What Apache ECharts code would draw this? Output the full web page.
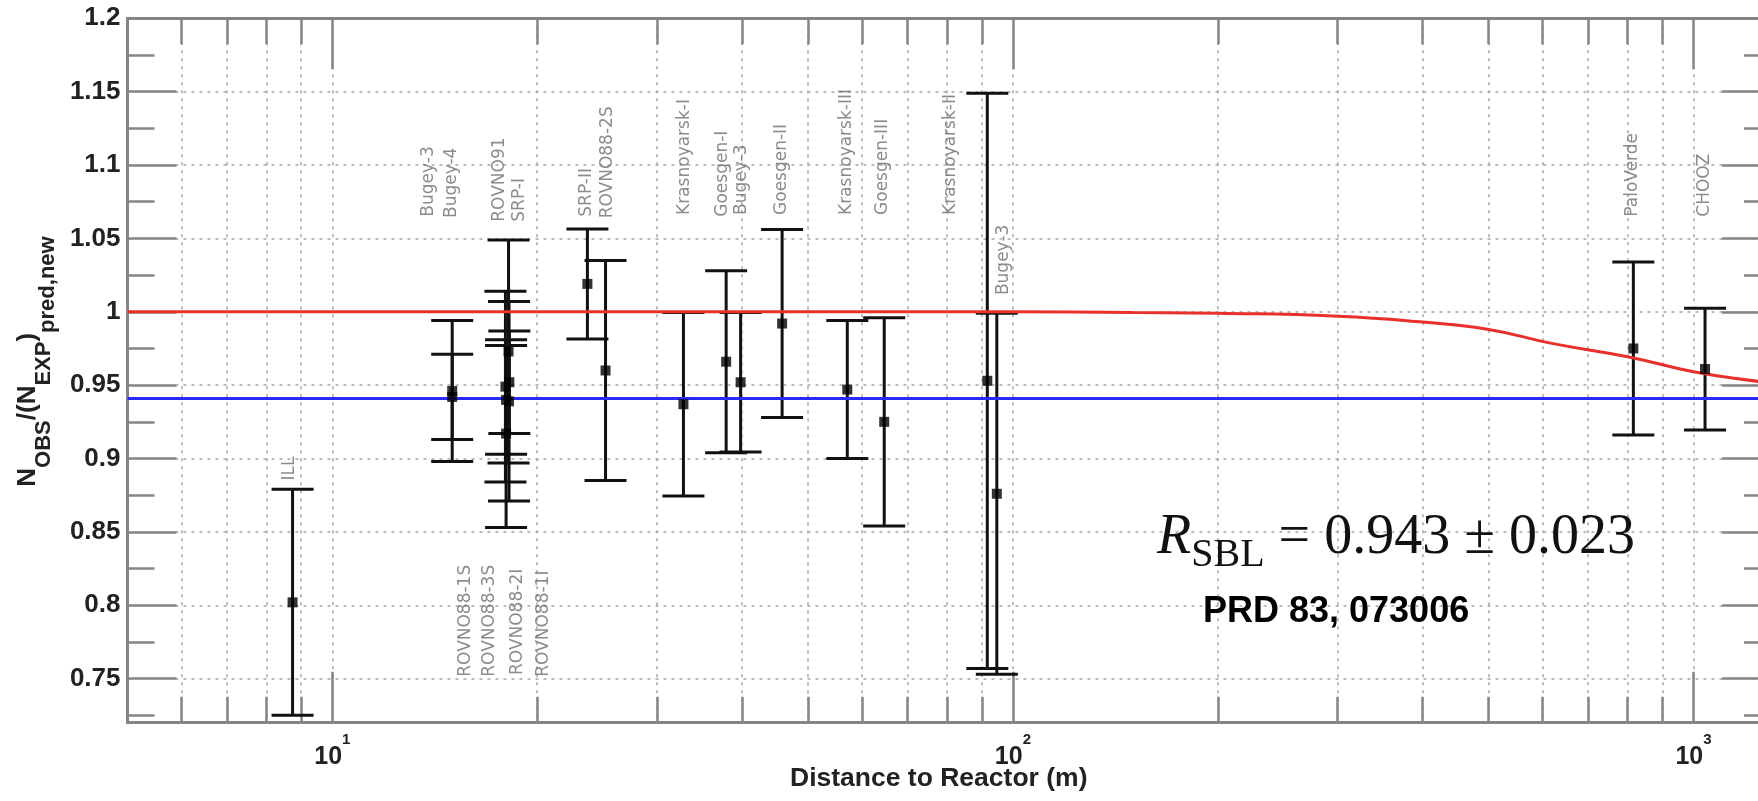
<!DOCTYPE html>
<html><head><meta charset="utf-8">
<script src="https://cdn.jsdelivr.net/npm/echarts@6/dist/echarts.min.js"></script>
<style>html,body{margin:0;padding:0;background:#fff}#c{width:1758px;height:801px}</style>
</head><body><div id="c"></div>
<script>
// ---------------- data ----------------
const expNames = ['ILL','Bugey-4','Bugey-3','ROVNO91','SRP-I','ROVNO88-1I','ROVNO88-2I','ROVNO88-1S','ROVNO88-3S','SRP-II','ROVNO88-2S','Krasnoyarsk-I','Goesgen-I','Bugey-3','Goesgen-II','Krasnoyarsk-III','Goesgen-III','Krasnoyarsk-II','Bugey-3','PaloVerde','CHOOZ'];
const expDist  = [8.74, 15, 15, 18, 18.2, 18, 17.96, 18.15, 18.18, 23.7, 25.2, 32.8, 37.9, 39.8, 45.8, 57.1, 64.7, 91.7, 94.7, 816, 1040];
const expRatio = [0.802, 0.942, 0.946, 0.940, 0.952, 0.917, 0.949, 0.973, 0.939, 1.019, 0.960, 0.937, 0.966, 0.952, 0.992, 0.947, 0.925, 0.953, 0.876, 0.975, 0.961];
const expErr   = [0.077, 0.029, 0.048, 0.037, 0.035, 0.064, 0.065, 0.076, 0.068, 0.0375, 0.075, 0.0625, 0.062, 0.0475, 0.064, 0.047, 0.071, 0.196, 0.123, 0.059, 0.0415];

const curveDist  = [5, 100, 150, 200, 300, 400, 500, 619, 800, 1000, 1252, 1300];
const curveRatio = [1.0, 1.0, 0.9995, 0.999, 0.997, 0.993, 0.988, 0.9785, 0.9694, 0.9592, 0.9524, 0.9515];
const meanRatio = 0.941;

const xTickValues = [10, 100, 1000];
const xTickBase   = ['10', '10', '10'];
const xTickExp    = ['1', '2', '3'];
const xMinorTicks = [6,7,8,9,20,30,40,50,60,70,80,90,200,300,400,500,600,700,800,900];
const yTickValues = [0.75,0.8,0.85,0.9,0.95,1,1.05,1.1,1.15,1.2];
const yTickLabels = ['0.75','0.8','0.85','0.9','0.95','1','1.05','1.1','1.15','1.2'];
const yMinorTicks = [0.725,0.775,0.825,0.875,0.925,0.975,1.025,1.075,1.125,1.175];

// experiment name annotations (text, distance, ratio at text start)
const labelText = ['Bugey-3','Bugey-4','ROVNO91','SRP-I','SRP-II','ROVNO88-2S','Krasnoyarsk-I','Goesgen-I','Bugey-3','Goesgen-II','Krasnoyarsk-III','Goesgen-III','Krasnoyarsk-II','Bugey-3','PaloVerde','CHOOZ','ILL','ROVNO88-1S','ROVNO88-3S','ROVNO88-2I','ROVNO88-1I'];
const labelDist = [13.87,14.96,17.63,18.87,23.67,25.41,32.97,37.49,39.99,45.71,57.05,64.43,81.1,97.0,813.8,1040,8.66,15.72,17.04,18.74,20.46];
const labelY    = [1.0648,1.0639,1.0614,1.0614,1.0648,1.0637,1.066,1.0648,1.066,1.066,1.066,1.066,1.066,1.0114,1.0648,1.0648,0.885,0.7513,0.7513,0.7525,0.7513];

// ---------------- styling ----------------
const AXIS_C = '#858585';
const GRID_C = '#a6a6a6';
const XMIN = 5, XMAX = 1300, YMIN = 0.72, YMAX = 1.2;
const gridLine = {show: true, lineStyle: {color: GRID_C, width: 1.5, type: [3, 5]}};
const tickStyle = {color: AXIS_C, width: 2.5};
const axisLineStyle = {show: true, onZero: false, lineStyle: {color: AXIS_C, width: 3}};

function xAxisDef(pos, ticks, len, extra) {
  return Object.assign({
    type: 'log', logBase: 10, min: XMIN, max: XMAX, position: pos,
    axisLine: {show: false, onZero: false},
    axisTick: {show: true, inside: true, length: len, customValues: ticks, lineStyle: tickStyle},
    axisLabel: {show: false},
    splitLine: {show: false},
    minorTick: {show: false}, minorSplitLine: {show: false}
  }, extra || {});
}
function yAxisDef(pos, ticks, len, extra) {
  return Object.assign({
    type: 'value', min: YMIN, max: YMAX, position: pos,
    axisLine: {show: false, onZero: false},
    axisTick: {show: true, inside: true, length: len, customValues: ticks, lineStyle: tickStyle},
    axisLabel: {show: false},
    splitLine: {show: false},
    minorTick: {show: false}
  }, extra || {});
}

const xAxes = [
  xAxisDef('bottom', xTickValues, 51, {
    axisLine: axisLineStyle,
    axisLabel: {
      show: true, customValues: xTickValues, margin: 10,
      formatter: function (v) {
        let i = xTickValues.findIndex(t => Math.abs(Math.log10(t) - Math.log10(v)) < 0.01);
        if (i < 0) return '';
        return '{b|' + xTickBase[i] + '}{s|' + xTickExp[i] + '}';
      },
      rich: {
        b: {fontSize: 25, fontWeight: 'bold', fontFamily: 'Liberation Sans', color: '#222', lineHeight: 37, verticalAlign: 'bottom'},
        s: {fontSize: 15, fontWeight: 'bold', fontFamily: 'Liberation Sans', color: '#222', verticalAlign: 'top'}
      }
    },
    splitLine: gridLine,
    name: 'Distance to Reactor (m)', nameLocation: 'middle', nameGap: 42, nameMoveOverlap: false,
    nameTextStyle: {fontSize: 26.5, fontWeight: 'bold', fontFamily: 'Liberation Sans', color: '#222', padding: [0, 21, 0, 0]}
  }),
  xAxisDef('bottom', xMinorTicks, 26, {splitLine: gridLine}),
  xAxisDef('top', xTickValues, 51, {axisLine: axisLineStyle}),
  xAxisDef('top', xMinorTicks, 26)
];

const yAxes = [
  yAxisDef('left', yTickValues, 49, {
    axisLine: axisLineStyle,
    axisLabel: {
      show: true, customValues: yTickValues, margin: 7,
      formatter: function (v) {
        let i = yTickValues.findIndex(t => Math.abs(t - v) < 1e-6);
        return i < 0 ? '' : yTickLabels[i];
      },
      fontSize: 26, fontWeight: 'bold', fontFamily: 'Liberation Sans', color: '#222'
    },
    splitLine: gridLine,
    name: '{m|N}{s|OBS}{m|/(N}{s|EXP}{m|)}{t|pred,new}',
    nameLocation: 'middle', nameGap: 69, nameMoveOverlap: false,
    nameTextStyle: {
      padding: [0, 0, 0, 18],
      rich: {
        m: {fontSize: 26, fontWeight: 'bold', fontFamily: 'Liberation Sans', color: '#222', verticalAlign: 'top'},
        s: {fontSize: 22, fontWeight: 'bold', fontFamily: 'Liberation Sans', color: '#222', verticalAlign: 'bottom', padding: [0, 0, 4, 0]},
        t: {fontSize: 22, fontWeight: 'bold', fontFamily: 'Liberation Sans', color: '#222', verticalAlign: 'bottom', lineHeight: 44}
      }
    }
  }),
  yAxisDef('left', yMinorTicks, 27),
  yAxisDef('right', yTickValues, 49, {axisLine: axisLineStyle}),
  yAxisDef('right', yMinorTicks, 27)
];

const errData = expDist.map((d, i) => [d, expRatio[i] - expErr[i], expRatio[i] + expErr[i]]);
const ptData = expDist.map((d, i) => ({name: expNames[i], value: [d, expRatio[i]]}));
const curveData = curveDist.map((d, i) => [d, curveRatio[i]]);
const labelData = labelText.map((t, i) => ({name: t, value: [labelDist[i], labelY[i]]}));

const chart = echarts.init(document.getElementById('c'), null, {renderer: 'canvas'});
chart.setOption({
  animation: false,
  backgroundColor: '#ffffff',
  grid: {left: 127.5, top: 18.3, right: -13, bottom: 78.3, containLabel: false, outerBoundsMode: 'none'},
  xAxis: xAxes,
  yAxis: yAxes,
  series: [
    {
      type: 'scatter', name: 'labels', data: labelData, symbolSize: 0, silent: true, z: 2,
      label: {
        show: true, position: 'inside', rotate: 90, align: 'left', verticalAlign: 'middle',
        formatter: '{b}', fontSize: 17, fontFamily: 'DejaVu Sans', color: '#6e6e6e'
      }
    },
    {
      type: 'custom', name: 'errors', data: errData, z: 3,
      encode: {x: 0, y: [1, 2]},
      renderItem: function (params, api) {
        const x = api.value(0);
        const lo = api.coord([x, api.value(1)]);
        const hi = api.coord([x, api.value(2)]);
        const hw = 21;
        const st = {stroke: '#111', lineWidth: 3};
        return {type: 'group', children: [
          {type: 'line', shape: {x1: lo[0], y1: lo[1], x2: hi[0], y2: hi[1]}, style: st},
          {type: 'line', shape: {x1: lo[0] - hw, y1: lo[1], x2: lo[0] + hw, y2: lo[1]}, style: st},
          {type: 'line', shape: {x1: hi[0] - hw, y1: hi[1], x2: hi[0] + hw, y2: hi[1]}, style: st}
        ]};
      }
    },
    {
      type: 'line', name: 'oscillation', data: curveData, showSymbol: false, smooth: 0.5,
      lineStyle: {color: '#e8302c', width: 3}, z: 4
    },
    {
      type: 'line', name: 'mean', data: [[XMIN, meanRatio], [XMAX, meanRatio]], showSymbol: false,
      lineStyle: {color: '#2a2af2', width: 3}, z: 4
    },
    {
      type: 'scatter', name: 'points', data: ptData, symbol: 'rect', symbolSize: 10,
      itemStyle: {color: '#000'}, z: 5
    }
  ],
  graphic: [
    {
      type: 'text', left: 1157, top: 510.5, z: 10,
      style: {
        text: '{r|R}{s|SBL}{n| = 0.943 ± 0.023}',
        rich: {
          r: {fontSize: 56, fontStyle: 'italic', fontFamily: 'Liberation Serif', fill: '#111', verticalAlign: 'top'},
          s: {fontSize: 40, fontFamily: 'Liberation Serif', fill: '#111', verticalAlign: 'bottom', lineHeight: 64.5},
          n: {fontSize: 56, fontFamily: 'Liberation Serif', fill: '#111', verticalAlign: 'top'}
        }
      }
    },
    {
      type: 'text', left: 1203, top: 594, z: 10,
      style: {text: 'PRD 83, 073006', fontSize: 36, fontWeight: 'bold', fontFamily: 'Liberation Sans', fill: '#000'}
    }
  ]
});
</script></body></html>
